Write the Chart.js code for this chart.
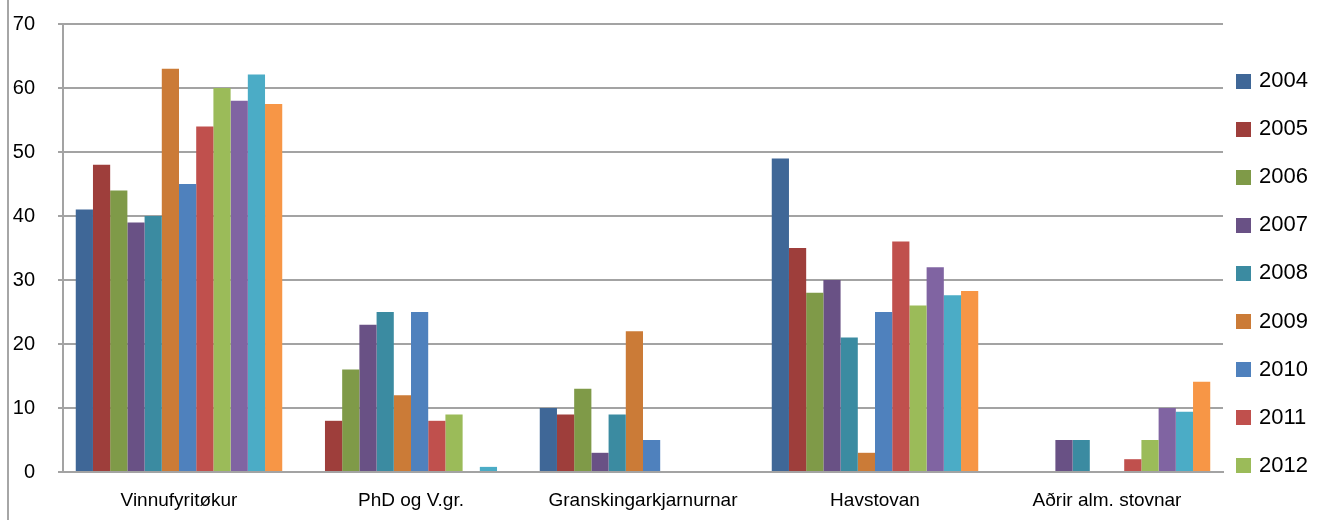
<!DOCTYPE html>
<html>
<head>
<meta charset="utf-8">
<script src="https://cdn.jsdelivr.net/npm/chart.js@4"></script>
<style>
  html, body { margin: 0; padding: 0; background: #fff; }
  #wrap { position: relative; width: 1326px; height: 520px; }
  #edge { position: absolute; left: 7px; top: 0; height: 520px; border-left: 2px solid #a6a6a6; }
</style>
</head>
<body>
<div id="wrap">
  <div id="edge"></div>
  <canvas id="chart" width="1326" height="520"></canvas>
</div>
<script>
// categories along the x axis
const categories = ['Vinnufyritøkur', 'PhD og V.gr.', 'Granskingarkjarnurnar', 'Havstovan', 'Aðrir alm. stovnar'];
const years = ['2004', '2005', '2006', '2007', '2008', '2009', '2010', '2011', '2012', '2013', '2014', '2015'];

// one array per year, same order as categories
const v2004 = [41, 0, 10, 49, 0];
const v2005 = [48, 8, 9, 35, 0];
const v2006 = [44, 16, 13, 28, 0];
const v2007 = [39, 23, 3, 30, 5];
const v2008 = [40, 25, 9, 21, 5];
const v2009 = [63, 12, 22, 3, 0];
const v2010 = [45, 25, 5, 25, 0];
const v2011 = [54, 8, 0, 36, 2];
const v2012 = [60, 9, 0, 26, 5];
const v2013 = [58, 0, 0, 32, 10];
const v2014 = [62.1, 0.8, 0, 27.6, 9.4];
const v2015 = [57.5, 0, 0, 28.3, 14.1];

const yTicks = [0, 10, 20, 30, 40, 50, 60, 70];

const seriesValues = [v2004, v2005, v2006, v2007, v2008, v2009, v2010, v2011, v2012, v2013, v2014, v2015];
const colors = ['#3f6797', '#9e3e3b', '#7f9a48', '#695185', '#3b8ba1', '#cb7b37',
                '#4f81bd', '#c0504d', '#9bbb59', '#8064a2', '#4bacc6', '#f79646'];

const LEGEND_SHOWN = 9; // the rest falls below the picture's edge
const gridGray = '#a3a3a3';

// legend on the right, drawn by hand so the spacing matches
const sideLegend = {
  id: 'sideLegend',
  afterDraw(chart) {
    const ctx = chart.ctx;
    const x = chart.chartArea.right + 13;
    ctx.save();
    ctx.font = '22px "Liberation Sans", Arial, sans-serif';
    ctx.textBaseline = 'middle';
    ctx.textAlign = 'left';
    for (let i = 0; i < LEGEND_SHOWN; i++) {
      const ds = chart.data.datasets[i];
      const cy = 81 + i * 48.1;
      ctx.fillStyle = ds.backgroundColor;
      ctx.fillRect(x, Math.round(cy - 7.5), 15, 15);
      ctx.fillStyle = '#000';
      ctx.fillText(ds.label, x + 23, cy);
    }
    ctx.restore();
  }
};

new Chart(document.getElementById('chart'), {
  type: 'bar',
  data: {
    labels: categories,
    datasets: years.map((y, i) => ({
      label: y,
      data: seriesValues[i],
      backgroundColor: colors[i],
      borderWidth: 0
    }))
  },
  options: {
    responsive: false,
    animation: false,
    layout: { padding: { top: 24, right: 103, bottom: 0, left: 0 } },
    datasets: { bar: { categoryPercentage: 0.89, barPercentage: 1 } },
    plugins: {
      legend: { display: false },
      tooltip: { enabled: false }
    },
    scales: {
      x: {
        grid: { display: false, drawTicks: false },
        border: { display: true, color: gridGray, width: 2 },
        ticks: {
          color: '#000',
          padding: 17,
          maxRotation: 0,
          font: { family: '"Liberation Sans", Arial, sans-serif', size: 19 }
        },
        afterFit(scale) { scale.height = 48; }
      },
      y: {
        min: 0,
        max: 70,
        afterBuildTicks(scale) { scale.ticks = yTicks.map(v => ({ value: v })); },
        grid: { color: gridGray, lineWidth: 2, drawTicks: true, tickLength: 5 },
        border: { display: true, color: gridGray, width: 2 },
        ticks: {
          color: '#000',
          padding: 23,
          font: { family: '"Liberation Sans", Arial, sans-serif', size: 20 }
        },
        afterFit(scale) {
          scale.width = 63;
          scale.paddingTop = 0;
          scale.paddingBottom = 0;
        }
      }
    }
  },
  plugins: [sideLegend]
});
</script>
</body>
</html>
